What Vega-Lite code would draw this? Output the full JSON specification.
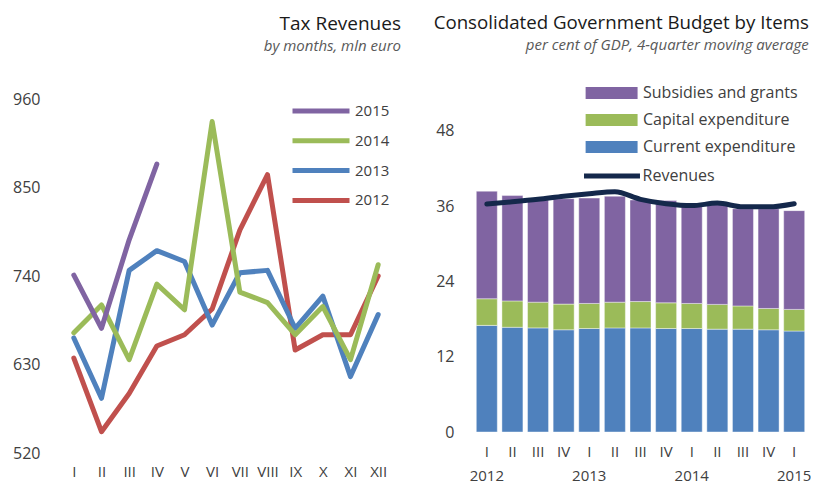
{
  "$schema": "https://vega.github.io/schema/vega-lite/v6.json",
  "background": "white",
  "padding": {"left": 12, "top": 14, "right": 0, "bottom": 0},
  "config": {
    "view": {"stroke": null},
    "font": "Open Sans",
    "axis": {"grid": false, "domain": false, "ticks": false, "title": null, "labelColor": "#404040", "labelFont": "Open Sans"},
    "legend": {"labelFont": "Open Sans", "labelColor": "#404040", "padding": 0, "title": null},
    "title": {"font": "Open Sans", "fontWeight": "normal", "color": "#1a1a1a", "subtitleFont": "Open Sans", "subtitleColor": "#595959", "subtitleFontStyle": "italic"}
  },
  "datasets": {
    "tax": [
      {"m": "I", "year": "2012", "v": 638}, {"m": "II", "year": "2012", "v": 546.5}, {"m": "III", "year": "2012", "v": 594}, {"m": "IV", "year": "2012", "v": 653}, {"m": "V", "year": "2012", "v": 667}, {"m": "VI", "year": "2012", "v": 699}, {"m": "VII", "year": "2012", "v": 797}, {"m": "VIII", "year": "2012", "v": 866}, {"m": "IX", "year": "2012", "v": 648}, {"m": "X", "year": "2012", "v": 667}, {"m": "XI", "year": "2012", "v": 667}, {"m": "XII", "year": "2012", "v": 740},
      {"m": "I", "year": "2013", "v": 663}, {"m": "II", "year": "2013", "v": 588}, {"m": "III", "year": "2013", "v": 747}, {"m": "IV", "year": "2013", "v": 771.5}, {"m": "V", "year": "2013", "v": 758}, {"m": "VI", "year": "2013", "v": 679}, {"m": "VII", "year": "2013", "v": 744}, {"m": "VIII", "year": "2013", "v": 747}, {"m": "IX", "year": "2013", "v": 675}, {"m": "X", "year": "2013", "v": 715}, {"m": "XI", "year": "2013", "v": 615}, {"m": "XII", "year": "2013", "v": 692},
      {"m": "I", "year": "2014", "v": 669.5}, {"m": "II", "year": "2014", "v": 704}, {"m": "III", "year": "2014", "v": 636}, {"m": "IV", "year": "2014", "v": 730}, {"m": "V", "year": "2014", "v": 698}, {"m": "VI", "year": "2014", "v": 932}, {"m": "VII", "year": "2014", "v": 720}, {"m": "VIII", "year": "2014", "v": 707}, {"m": "IX", "year": "2014", "v": 667}, {"m": "X", "year": "2014", "v": 702}, {"m": "XI", "year": "2014", "v": 636}, {"m": "XII", "year": "2014", "v": 754},
      {"m": "I", "year": "2015", "v": 741}, {"m": "II", "year": "2015", "v": 675}, {"m": "III", "year": "2015", "v": 785}, {"m": "IV", "year": "2015", "v": 879}
    ],
    "budget": [
      {"q": "2012 I", "item": "Current expenditure", "o": 1, "v": 17.0}, {"q": "2012 I", "item": "Capital expenditure", "o": 2, "v": 4.25}, {"q": "2012 I", "item": "Subsidies and grants", "o": 3, "v": 17.15},
      {"q": "2012 II", "item": "Current expenditure", "o": 1, "v": 16.7}, {"q": "2012 II", "item": "Capital expenditure", "o": 2, "v": 4.2}, {"q": "2012 II", "item": "Subsidies and grants", "o": 3, "v": 16.8},
      {"q": "2012 III", "item": "Current expenditure", "o": 1, "v": 16.6}, {"q": "2012 III", "item": "Capital expenditure", "o": 2, "v": 4.1}, {"q": "2012 III", "item": "Subsidies and grants", "o": 3, "v": 16.3},
      {"q": "2012 IV", "item": "Current expenditure", "o": 1, "v": 16.3}, {"q": "2012 IV", "item": "Capital expenditure", "o": 2, "v": 4.1}, {"q": "2012 IV", "item": "Subsidies and grants", "o": 3, "v": 16.8},
      {"q": "2013 I", "item": "Current expenditure", "o": 1, "v": 16.5}, {"q": "2013 I", "item": "Capital expenditure", "o": 2, "v": 4.0}, {"q": "2013 I", "item": "Subsidies and grants", "o": 3, "v": 16.8},
      {"q": "2013 II", "item": "Current expenditure", "o": 1, "v": 16.6}, {"q": "2013 II", "item": "Capital expenditure", "o": 2, "v": 4.1}, {"q": "2013 II", "item": "Subsidies and grants", "o": 3, "v": 16.9},
      {"q": "2013 III", "item": "Current expenditure", "o": 1, "v": 16.6}, {"q": "2013 III", "item": "Capital expenditure", "o": 2, "v": 4.2}, {"q": "2013 III", "item": "Subsidies and grants", "o": 3, "v": 16.2},
      {"q": "2013 IV", "item": "Current expenditure", "o": 1, "v": 16.5}, {"q": "2013 IV", "item": "Capital expenditure", "o": 2, "v": 4.1}, {"q": "2013 IV", "item": "Subsidies and grants", "o": 3, "v": 16.3},
      {"q": "2014 I", "item": "Current expenditure", "o": 1, "v": 16.5}, {"q": "2014 I", "item": "Capital expenditure", "o": 2, "v": 4.0}, {"q": "2014 I", "item": "Subsidies and grants", "o": 3, "v": 15.8},
      {"q": "2014 II", "item": "Current expenditure", "o": 1, "v": 16.4}, {"q": "2014 II", "item": "Capital expenditure", "o": 2, "v": 3.95}, {"q": "2014 II", "item": "Subsidies and grants", "o": 3, "v": 16.25},
      {"q": "2014 III", "item": "Current expenditure", "o": 1, "v": 16.4}, {"q": "2014 III", "item": "Capital expenditure", "o": 2, "v": 3.7}, {"q": "2014 III", "item": "Subsidies and grants", "o": 3, "v": 15.5},
      {"q": "2014 IV", "item": "Current expenditure", "o": 1, "v": 16.3}, {"q": "2014 IV", "item": "Capital expenditure", "o": 2, "v": 3.4}, {"q": "2014 IV", "item": "Subsidies and grants", "o": 3, "v": 15.9},
      {"q": "2015 I", "item": "Current expenditure", "o": 1, "v": 16.1}, {"q": "2015 I", "item": "Capital expenditure", "o": 2, "v": 3.45}, {"q": "2015 I", "item": "Subsidies and grants", "o": 3, "v": 15.75}
    ],
    "revenues": [
      {"q": "2012 I", "s": "Revenues", "v": 36.35}, {"q": "2012 II", "s": "Revenues", "v": 36.7}, {"q": "2012 III", "s": "Revenues", "v": 37.1}, {"q": "2012 IV", "s": "Revenues", "v": 37.6},
      {"q": "2013 I", "s": "Revenues", "v": 38.0}, {"q": "2013 II", "s": "Revenues", "v": 38.3}, {"q": "2013 III", "s": "Revenues", "v": 37.1}, {"q": "2013 IV", "s": "Revenues", "v": 36.4},
      {"q": "2014 I", "s": "Revenues", "v": 36.1}, {"q": "2014 II", "s": "Revenues", "v": 36.5}, {"q": "2014 III", "s": "Revenues", "v": 35.9}, {"q": "2014 IV", "s": "Revenues", "v": 35.9},
      {"q": "2015 I", "s": "Revenues", "v": 36.4}
    ]
  },
  "spacing": 82,
  "bounds": "flush",
  "hconcat": [
    {
      "width": 332,
      "height": 354,
      "title": {"text": "Tax Revenues", "subtitle": "by months, mln euro", "anchor": "end", "fontSize": 19, "subtitleFontSize": 15, "subtitlePadding": 5, "offset": 37, "dx": 9},
      "data": {"name": "tax"},
      "mark": {"type": "line", "strokeWidth": 5, "strokeCap": "round", "strokeJoin": "round"},
      "encoding": {
        "x": {"field": "m", "type": "ordinal", "sort": ["I", "II", "III", "IV", "V", "VI", "VII", "VIII", "IX", "X", "XI", "XII"], "scale": {"type": "point", "padding": 0.5}, "axis": {"labelAngle": 0, "labelFontSize": 15, "labelPadding": 11}},
        "y": {"field": "v", "type": "quantitative", "scale": {"domain": [520, 960], "nice": false, "zero": false}, "axis": {"values": [520, 630, 740, 850, 960], "labelFontSize": 16, "labelPadding": 20}},
        "color": {"field": "year", "type": "nominal", "scale": {"domain": ["2015", "2014", "2013", "2012"], "range": ["#8064A2", "#9BBB59", "#4F81BD", "#C0504D"]},
          "legend": {"orient": "none", "legendX": 249, "legendY": 0, "symbolType": "M-3,0H3", "symbolSize": 361, "symbolStrokeWidth": 5, "labelFontSize": 15, "labelOffset": 22, "rowPadding": 7.8}}
      }
    },
    {
      "width": 333,
      "height": 333,
      "title": {"text": "Consolidated Government Budget by Items", "subtitle": "per cent of GDP, 4-quarter moving average", "anchor": "end", "fontSize": 18.7, "subtitleFontSize": 15, "subtitlePadding": 5, "offset": 46, "dx": -2},
      "layer": [
        {
          "data": {"name": "budget"},
          "mark": {"type": "bar", "stroke": "#ffffff", "strokeWidth": 0.6, "strokeOpacity": 0.7},
          "encoding": {
            "x": {"field": "q", "type": "ordinal", "sort": ["2012 I", "2012 II", "2012 III", "2012 IV", "2013 I", "2013 II", "2013 III", "2013 IV", "2014 I", "2014 II", "2014 III", "2014 IV", "2015 I"], "scale": {"type": "band", "paddingInner": 0.18, "paddingOuter": 0.09},
              "axis": {"labelAngle": 0, "labelFontSize": 15, "labelPadding": 12, "labelLineHeight": 24, "labelExpr": "split(datum.value, ' ')[1] == 'I' ? [split(datum.value, ' ')[1], split(datum.value, ' ')[0]] : split(datum.value, ' ')[1]"}},
            "y": {"field": "v", "type": "quantitative", "stack": "zero", "scale": {"domain": [0, 53.1], "nice": false}, "axis": {"values": [0, 12, 24, 36, 48], "labelFontSize": 16, "labelPadding": 20}},
            "fill": {"field": "item", "type": "nominal", "scale": {"domain": ["Subsidies and grants", "Capital expenditure", "Current expenditure"], "range": ["#8064A2", "#9BBB59", "#4F81BD"]},
              "legend": {"orient": "none", "legendX": 542.6, "legendY": -15, "symbolType": "M-3,-0.69H3V0.69H-3Z", "symbolSize": 300, "symbolStrokeWidth": 0, "labelFontSize": 16, "labelOffset": 22.4, "rowPadding": 10}},
            "order": {"field": "o", "type": "quantitative"}
          }
        },
        {
          "data": {"name": "revenues"},
          "mark": {"type": "line", "strokeWidth": 5, "interpolate": "monotone", "strokeCap": "round"},
          "encoding": {
            "x": {"field": "q", "type": "ordinal", "sort": ["2012 I", "2012 II", "2012 III", "2012 IV", "2013 I", "2013 II", "2013 III", "2013 IV", "2014 I", "2014 II", "2014 III", "2014 IV", "2015 I"]},
            "y": {"field": "v", "type": "quantitative"},
            "stroke": {"field": "s", "type": "nominal", "scale": {"domain": ["Revenues"], "range": ["#14284B"]},
              "legend": {"orient": "none", "legendX": 540, "legendY": 65, "symbolType": "M-3,0H3", "symbolSize": 348, "symbolStrokeWidth": 5, "labelFontSize": 16, "labelOffset": 18.6}}
          }
        }
      ]
    }
  ]
}
